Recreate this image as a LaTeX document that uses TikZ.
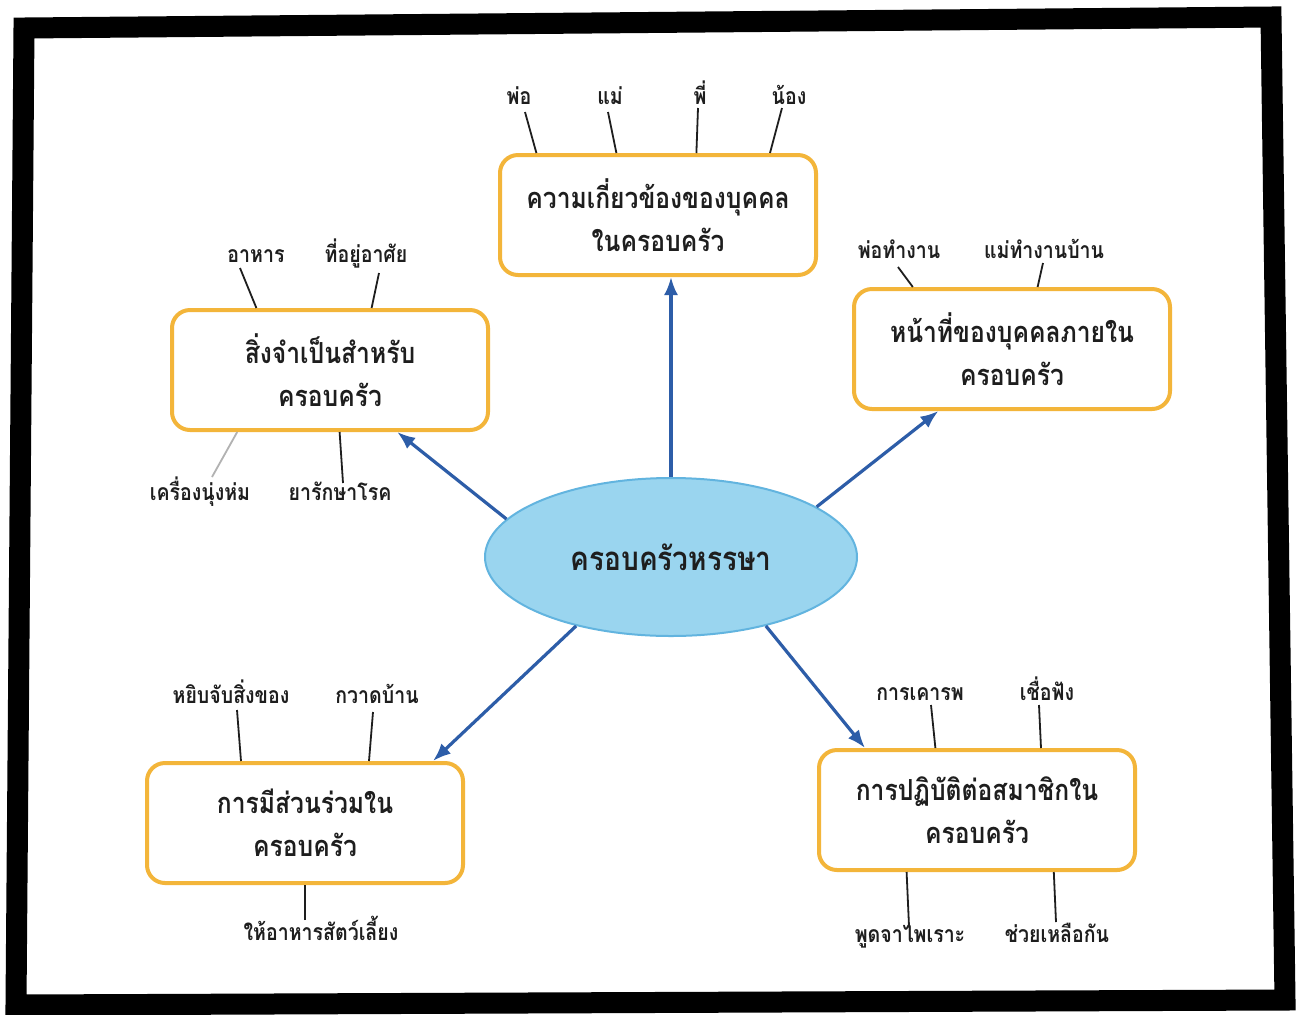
\documentclass[tikz,border=0pt]{standalone}
\usepackage{fontspec}
\newfontfamily\thaifont[Script=Thai, FakeStretch=0.85]{Loma}
\usetikzlibrary{positioning, shapes.geometric, calc, arrows.meta}
\definecolor{boxorange}{HTML}{F3B53A}
\definecolor{ovalblue}{HTML}{9AD5EF}
\definecolor{ovaledge}{HTML}{62B4DF}
\definecolor{spokeblue}{HTML}{2D5DA8}
\definecolor{inkgray}{HTML}{1E1E1E}

\tikzset{
  topic/.style={draw=boxorange, line width=2pt, rounded corners=9pt, fill=white,
    minimum width=158pt, minimum height=60pt, align=center, text=inkgray,
    font=\thaifont\bfseries\fontsize{14.5}{21.5}\selectfont},
  hub/.style={ellipse, draw=ovaledge, line width=1pt, fill=ovalblue, inner sep=0pt,
    minimum width=186pt, minimum height=79pt, text=inkgray,
    font=\thaifont\bfseries\fontsize{16.5}{20}\selectfont},
  leaf/.style={anchor=base, inner sep=0pt, text=inkgray,
    font=\thaifont\bfseries\fontsize{11.5}{14}\selectfont},
  spoke/.style={-{Latex[length=9pt,width=7pt]}, spokeblue, line width=1.6pt},
  twig/.style={inkgray, line width=0.9pt},
  frame/.style={black, line width=10.5pt, line join=miter},
}

\begin{document}
\begin{tikzpicture}[x=0.5pt, y=-0.5pt]
  \useasboundingbox[fill=white] (0,0) rectangle (1302,1014);
  \draw[frame] (24,28) -- (1271,17) -- (1285,1000) -- (16,1005) -- cycle;

  \node[hub]   (fam)   at (671,557)  {ครอบครัวหรรษา};
  \node[topic] (rel)   at (658,215)  {ความเกี่ยวข้องของบุคคล\\ในครอบครัว};
  \node[topic] (need)  at (330,370)  {สิ่งจำเป็นสำหรับ\\ครอบครัว};
  \node[topic] (duty)  at (1012,349) {หน้าที่ของบุคคลภายใน\\ครอบครัว};
  \node[topic] (part)  at (305,823)  {การมีส่วนร่วมใน\\ครอบครัว};
  \node[topic] (treat) at (977,810)  {การปฏิบัติต่อสมาชิกใน\\ครอบครัว};

  \node[leaf] (dad)      at (519,104)  {พ่อ};
  \node[leaf] (mom)      at (610,104)  {แม่};
  \node[leaf] (elder)    at (700,104)  {พี่};
  \node[leaf] (younger)  at (789,104)  {น้อง};
  \node[leaf] (food)     at (256,262)  {อาหาร};
  \node[leaf] (shelter)  at (366,262)  {ที่อยู่อาศัย};
  \node[leaf] (clothes)  at (200,500)  {เครื่องนุ่งห่ม};
  \node[leaf] (medicine) at (340,500)  {ยารักษาโรค};
  \node[leaf] (dadwork)  at (899,258)  {พ่อทำงาน};
  \node[leaf] (momwork)  at (1044,258) {แม่ทำงานบ้าน};
  \node[leaf] (pickup)   at (231,703)  {หยิบจับสิ่งของ};
  \node[leaf] (sweep)    at (377,703)  {กวาดบ้าน};
  \node[leaf] (feedpet)  at (321,940)  {ให้อาหารสัตว์เลี้ยง};
  \node[leaf] (respect)  at (920,700)  {การเคารพ};
  \node[leaf] (obey)     at (1047,700) {เชื่อฟัง};
  \node[leaf] (polite)   at (910,942)  {พูดจาไพเราะ};
  \node[leaf] (helpeach) at (1057,942) {ช่วยเหลือกัน};

  \draw[spoke] (fam.north) -- (fam.north |- rel.south);
  \draw[spoke] (fam.167) -- ($(need.south west)!.71!(need.south east)$);
  \draw[spoke] (fam.19)  -- ($(duty.south west)!.27!(duty.south east)$);
  \draw[spoke] (fam.216) -- ($(part.north west)!.90!(part.north east)$);
  \draw[spoke] (fam.324) -- ($(treat.north west)!.15!(treat.north east)$);

  \draw[twig] ($(dad.base)+(6,8)$)       -- ($(rel.north west)!.12!(rel.north east)$);
  \draw[twig] ($(mom.base)+(-2,8)$)      -- ($(rel.north west)!.37!(rel.north east)$);
  \draw[twig] ($(elder.base)+(-2,4)$)    -- ($(rel.north west)!.62!(rel.north east)$);
  \draw[twig] ($(younger.base)+(-7,4)$)  -- ($(rel.north west)!.85!(rel.north east)$);
  \draw[twig] ($(food.base)+(-16,6)$)    -- ($(need.north west)!.27!(need.north east)$);
  \draw[twig] ($(shelter.base)+(13,11)$) -- ($(need.north west)!.63!(need.north east)$);
  \draw[twig, gray!60] ($(clothes.base)+(12,-23)$) -- ($(need.south west)!.21!(need.south east)$);
  \draw[twig] ($(medicine.base)+(3,-17)$) -- ($(need.south west)!.53!(need.south east)$);
  \draw[twig] ($(dadwork.base)+(-1,9)$)  -- ($(duty.north west)!.19!(duty.north east)$);
  \draw[twig] ($(momwork.base)+(-1,5)$)  -- ($(duty.north west)!.58!(duty.north east)$);
  \draw[twig] ($(pickup.base)+(6,7)$)    -- ($(part.north west)!.30!(part.north east)$);
  \draw[twig] ($(sweep.base)+(-4,9)$)    -- ($(part.north west)!.70!(part.north east)$);
  \draw[twig] ($(feedpet.base)+(-16,-20)$) -- ($(part.south west)!.50!(part.south east)$);
  \draw[twig] ($(respect.base)+(11,5)$)  -- ($(treat.north west)!.37!(treat.north east)$);
  \draw[twig] ($(obey.base)+(-8,5)$)     -- ($(treat.north west)!.70!(treat.north east)$);
  \draw[twig] ($(polite.base)+(-1,-16)$) -- ($(treat.south west)!.28!(treat.south east)$);
  \draw[twig] ($(helpeach.base)+(-1,-20)$) -- ($(treat.south west)!.74!(treat.south east)$);
\end{tikzpicture}
\end{document}
